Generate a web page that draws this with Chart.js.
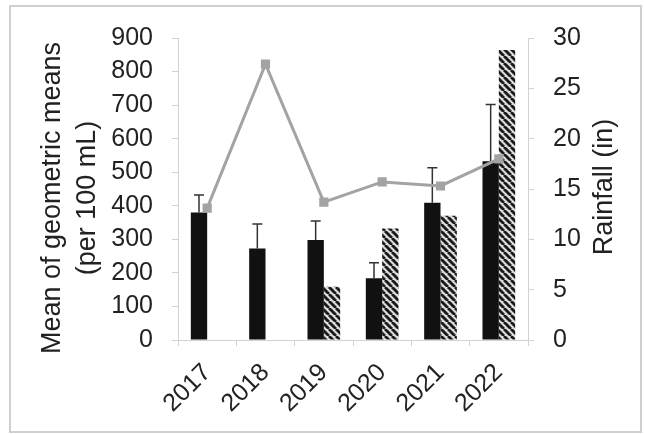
<!DOCTYPE html>
<html>
<head>
<meta charset="utf-8">
<script src="https://cdn.jsdelivr.net/npm/chart.js@4.4.1/dist/chart.umd.min.js"></script>
<style>
  html, body { margin: 0; padding: 0; background: #fff; }
</style>
</head>
<body>
<canvas id="chart" width="645" height="434"></canvas>
<script>
// values
const years = ['2017', '2018', '2019', '2020', '2021', '2022'];
const geoMeans = [380, 273, 298, 184, 409, 533];
const geoMeanUpper = [432, 346, 355, 230, 513, 702];
const secondSeries = [null, null, 159, 332, 370, 864];
const rainfall = [13.1, 27.4, 13.7, 15.7, 15.3, 18.0];

const leftMax = 900, leftStep = 100;
const rightMax = 30, rightStep = 5;

const FONT = "'Liberation Sans', Arial, sans-serif";
const TEXT = '#222';
const AXIS = '#d2d2d2';

// diagonal "\\" hatch for the second bar series
function hatch() {
    const s = 7;
    const c = document.createElement('canvas');
    c.width = s; c.height = s;
    const g = c.getContext('2d');
    g.fillStyle = '#dcdcdc';
    g.fillRect(0, 0, s, s);
    g.strokeStyle = '#1a1a1a';
    g.lineWidth = 2.8;
    for (const k of [-s, 0, s]) {
        g.beginPath();
        g.moveTo(k, 0);
        g.lineTo(k + s, s);
        g.stroke();
    }
    return g.createPattern(c, 'repeat');
}

const framePlugin = {
    id: 'frame',
    beforeDraw(chart) {
        const ctx = chart.ctx;
        ctx.save();
        ctx.fillStyle = '#fff';
        ctx.fillRect(0, 0, chart.width, chart.height);
        ctx.strokeStyle = '#cfcfcf';
        ctx.lineWidth = 2;
        ctx.strokeRect(10, 6, 631, 426);
        ctx.restore();
    }
};

// upper-only error bars on the black bars, drawn below the line
const errorBars = {
    id: 'errorBars',
    afterDatasetDraw(chart, args) {
        if (args.index !== 0) return;
        const ctx = chart.ctx;
        const y = chart.scales.y;
        const meta = chart.getDatasetMeta(0);
        ctx.save();
        ctx.strokeStyle = '#333';
        ctx.lineWidth = 1.5;
        meta.data.forEach((bar, i) => {
            const top = y.getPixelForValue(geoMeanUpper[i]);
            const base = y.getPixelForValue(geoMeans[i]);
            ctx.beginPath();
            ctx.moveTo(bar.x, base);
            ctx.lineTo(bar.x, top);
            ctx.moveTo(bar.x - 5, top);
            ctx.lineTo(bar.x + 5, top);
            ctx.stroke();
        });
        ctx.restore();
    }
};

// both axis titles read bottom-to-top
function vText(ctx, text, x, y) {
    ctx.save();
    ctx.translate(x, y);
    ctx.rotate(-Math.PI / 2);
    ctx.fillText(text, 0, 0);
    ctx.restore();
}

const axisTitles = {
    id: 'axisTitles',
    afterDraw(chart) {
        const ctx = chart.ctx;
        ctx.save();
        ctx.font = '27px ' + FONT;
        ctx.fillStyle = TEXT;
        ctx.textAlign = 'center';
        ctx.textBaseline = 'middle';
        vText(ctx, 'Mean of geometric means', 53, 198);
        vText(ctx, '(per 100 mL)', 88, 198);
        vText(ctx, 'Rainfall (in)', 605, 187);
        ctx.restore();
    }
};

const ctx = document.getElementById('chart').getContext('2d');
new Chart(ctx, {
    data: {
        labels: years,
        datasets: [
            {
                type: 'bar',
                label: 'Mean of geometric means',
                data: geoMeans,
                backgroundColor: '#111',
                yAxisID: 'y',
                order: 2,
                categoryPercentage: 0.56,
                barPercentage: 1.0
            },
            {
                type: 'bar',
                label: 'Second series',
                data: secondSeries,
                backgroundColor: hatch(),
                yAxisID: 'y',
                order: 3,
                categoryPercentage: 0.56,
                barPercentage: 1.0
            },
            {
                type: 'line',
                label: 'Rainfall (in)',
                data: rainfall,
                borderColor: '#a3a3a3',
                backgroundColor: '#a3a3a3',
                borderWidth: 3,
                pointStyle: 'rect',
                pointRadius: 6.5,
                pointBorderWidth: 0,
                pointBackgroundColor: '#a3a3a3',
                tension: 0,
                yAxisID: 'y1',
                order: 1
            }
        ]
    },
    options: {
        responsive: false,
        animation: false,
        layout: { padding: { top: 38, left: 0, right: 0, bottom: 0 } },
        plugins: {
            legend: { display: false },
            tooltip: { enabled: false }
        },
        scales: {
            x: {
                offset: true,
                grid: { drawOnChartArea: false, drawTicks: true, tickLength: 6, color: AXIS, offset: true },
                border: { color: AXIS },
                ticks: {
                    color: TEXT, font: { family: FONT, size: 25 },
                    minRotation: 45, maxRotation: 45, padding: 12
                },
                afterFit: s => { s.height = 94; }
            },
            y: {
                position: 'left',
                min: 0, max: leftMax,
                grid: { drawOnChartArea: false, tickLength: 6, color: AXIS },
                border: { color: AXIS },
                ticks: { stepSize: leftStep, color: TEXT, font: { family: FONT, size: 25 }, padding: 19 },
                afterFit: s => { s.width = 178; }
            },
            y1: {
                position: 'right',
                min: 0, max: rightMax,
                grid: { drawOnChartArea: false, tickLength: 6, color: AXIS },
                border: { color: AXIS },
                ticks: { stepSize: rightStep, color: TEXT, font: { family: FONT, size: 25 }, padding: 19 },
                afterFit: s => { s.width = 117; }
            }
        }
    },
    plugins: [framePlugin, errorBars, axisTitles]
});
</script>
</body>
</html>
